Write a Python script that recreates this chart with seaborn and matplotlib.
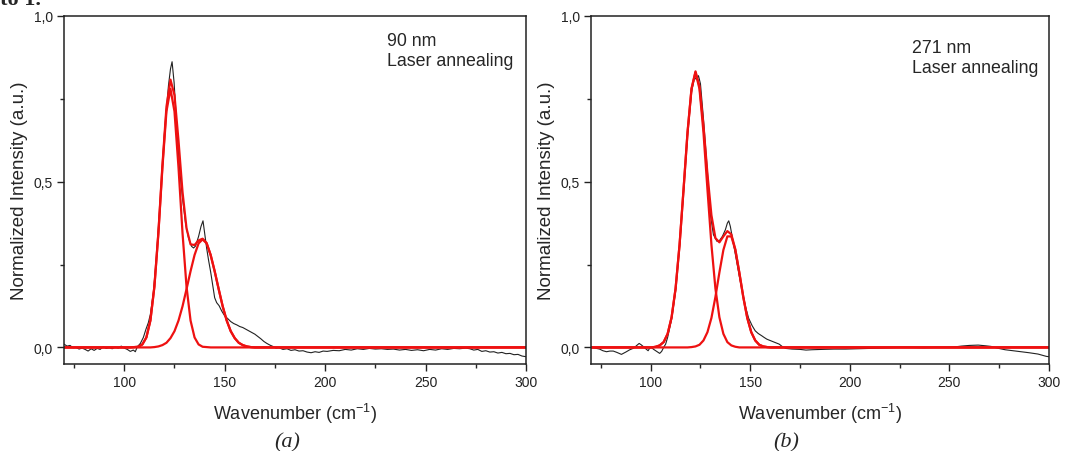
import matplotlib
matplotlib.use("Agg")
import matplotlib.pyplot as plt
import seaborn as sns
import pandas as pd
from matplotlib.ticker import MultipleLocator, FuncFormatter

# -------- panel (a): 90 nm, measured spectrum --------
a_x = [70, 71.5, 73, 74.5, 76, 77.5, 79, 80.5, 82, 83.5, 85, 86.5, 88, 89.5, 91, 92.5,
       94, 95.5, 97, 98.5, 100, 101.5, 103, 104.5, 105.5, 106.5, 108, 109.5, 110.8, 112,
       113, 114.5, 116, 118, 120, 122, 123, 123.8, 124.8, 126, 127.5, 129, 130.5, 132,
       133.5, 134.5, 135.5, 137, 138.2, 139.2, 140, 141, 142, 143, 144, 145, 146, 147.2,
       148.5, 150, 151.5, 153, 154.5, 156, 157.5, 159, 160.5, 162, 163.5, 165, 166.5, 168,
       169.5, 171, 172.5, 174, 175.5, 177, 179, 181, 183, 185, 187, 189, 191, 193, 195,
       197, 199, 201, 204, 207, 210, 213, 216, 219, 222, 225, 228, 231, 234, 237, 240,
       243, 246, 249, 252, 255, 258, 261, 264, 267, 270, 272, 274, 276, 278, 280, 282,
       284, 286, 288, 290, 292, 294, 296, 298, 300]
a_y = [0.010, 0.004, 0.006, -0.001, 0.000, -0.005, -0.002, -0.006, -0.011, -0.004, -0.009,
       -0.003, -0.006, 0.002, -0.003, -0.001, -0.004, 0.001, -0.002, 0.004, -0.002, -0.006,
       -0.012, -0.008, -0.013, 0.002, 0.012, 0.030, 0.055, 0.075, 0.100, 0.165, 0.270,
       0.450, 0.645, 0.790, 0.840, 0.862, 0.800, 0.680, 0.540, 0.450, 0.375, 0.330, 0.305,
       0.300, 0.306, 0.335, 0.365, 0.382, 0.345, 0.300, 0.262, 0.228, 0.190, 0.150, 0.135,
       0.126, 0.110, 0.095, 0.087, 0.078, 0.072, 0.068, 0.063, 0.060, 0.055, 0.050, 0.045,
       0.040, 0.033, 0.026, 0.018, 0.012, 0.007, 0.003, -0.002, -0.001, -0.006, -0.004,
       -0.009, -0.007, -0.011, -0.010, -0.014, -0.016, -0.013, -0.015, -0.011, -0.012,
       -0.009, -0.010, -0.006, -0.008, -0.004, -0.006, -0.003, -0.005, -0.004, -0.006,
       -0.005, -0.008, -0.006, -0.009, -0.007, -0.010, -0.006, -0.008, -0.004, -0.006,
       -0.003, -0.004, -0.002, -0.004, -0.008, -0.006, -0.012, -0.010, -0.014, -0.013,
       -0.017, -0.015, -0.019, -0.018, -0.022, -0.021, -0.026, -0.028]

# panel (a) fitted peaks
a_fit_x = [70, 103, 105, 107, 109, 111, 113, 115, 117, 119, 121, 123, 125, 127, 129, 131,
           133, 135, 137, 139, 141, 143, 145, 147, 149, 151, 153, 155, 157, 159, 161, 163,
           165, 300]
a_peak1 = [0, 0.000, 0.001, 0.002, 0.009, 0.030, 0.081, 0.183, 0.345, 0.543, 0.712, 0.780,
           0.712, 0.543, 0.345, 0.183, 0.081, 0.030, 0.009, 0.002, 0.001, 0, 0, 0, 0, 0,
           0, 0, 0, 0, 0, 0, 0, 0]
a_peak2 = [0, 0, 0, 0, 0, 0, 0.000, 0.001, 0.003, 0.007, 0.014, 0.028, 0.049, 0.081, 0.124,
           0.176, 0.230, 0.279, 0.314, 0.326, 0.314, 0.279, 0.230, 0.176, 0.124, 0.081,
           0.049, 0.028, 0.014, 0.007, 0.003, 0.001, 0.000, 0]
a_sum = [0, 0.000, 0.001, 0.002, 0.009, 0.030, 0.081, 0.184, 0.348, 0.550, 0.726, 0.808,
         0.761, 0.624, 0.469, 0.359, 0.311, 0.309, 0.323, 0.328, 0.315, 0.279, 0.230, 0.176,
         0.124, 0.081, 0.049, 0.028, 0.014, 0.007, 0.003, 0.001, 0.000, 0]

# -------- panel (b): 271 nm, measured spectrum --------
b_x = [70, 72, 74.3, 76, 77.8, 79.5, 81.2, 83, 85.3, 87.5, 89.5, 91.5, 93, 94.2, 95.2,
       96.2, 97.5, 98.7, 99.5, 100.3, 101.5, 103, 104.5, 105.5, 106.5, 107.5, 108.5, 110.5,
       112.5, 114.5, 116.5, 118.5, 120.5, 122, 123, 124, 125, 126.5, 128.5, 130, 131.5,
       133.3, 134.5, 136, 137.5, 138.5, 139.2, 140, 141.5, 143, 144.5, 146, 147.5, 149.2,
       151, 152.5, 154, 155.8, 157, 158.3, 159.5, 162, 164.5, 166, 167.8, 171, 175, 178,
       181, 186, 192, 198, 204, 210, 215, 220, 225, 231, 237, 243, 248, 252, 256, 260,
       264.5, 268, 271, 274, 278, 282, 286, 290, 294.5, 298.7, 300]
b_y = [0.000, -0.002, -0.005, -0.010, -0.013, -0.011, -0.011, -0.015, -0.021, -0.014,
       -0.007, -0.002, 0.006, 0.012, 0.008, 0.003, -0.004, -0.010, -0.002, 0.000, -0.006,
       -0.012, -0.018, -0.012, 0.000, 0.010, 0.030, 0.085, 0.170, 0.305, 0.470, 0.640,
       0.770, 0.815, 0.808, 0.820, 0.795, 0.690, 0.530, 0.400, 0.340, 0.320, 0.322, 0.335,
       0.355, 0.375, 0.382, 0.365, 0.315, 0.265, 0.215, 0.170, 0.125, 0.088, 0.065, 0.050,
       0.042, 0.035, 0.030, 0.025, 0.022, 0.016, 0.010, 0.003, -0.003, -0.005, -0.006,
       -0.008, -0.007, -0.006, -0.005, -0.005, -0.004, -0.003, -0.002, -0.001, 0.000,
       0.000, -0.001, 0.000, 0.000, 0.001, 0.004, 0.006, 0.007, 0.005, 0.003, -0.002,
       -0.007, -0.010, -0.013, -0.016, -0.020, -0.027, -0.028]

# panel (b) fitted peaks
b_fit_x = [70, 100.5, 102.5, 104.5, 106.5, 108.5, 110.5, 112.5, 114.5, 116.5, 118.5, 120.5,
           122.5, 124.5, 126.5, 128.5, 130.5, 132.5, 134.5, 136.5, 138.5, 140.5, 142.5,
           144.5, 146.5, 148.5, 150.5, 152.5, 154.5, 156.5, 158.5, 160.5, 300]
b_peak1 = [0, 0.000, 0.002, 0.006, 0.016, 0.041, 0.091, 0.178, 0.310, 0.477, 0.649, 0.780,
           0.830, 0.780, 0.649, 0.477, 0.310, 0.178, 0.091, 0.041, 0.016, 0.006, 0.002,
           0.000, 0, 0, 0, 0, 0, 0, 0, 0, 0]
b_peak2 = [0, 0, 0, 0, 0, 0, 0, 0, 0, 0, 0.000, 0.001, 0.003, 0.008, 0.021, 0.046, 0.089,
           0.152, 0.226, 0.294, 0.335, 0.335, 0.294, 0.226, 0.152, 0.089, 0.046, 0.021,
           0.008, 0.003, 0.001, 0.000, 0]
b_sum = [0, 0.000, 0.002, 0.006, 0.016, 0.041, 0.091, 0.178, 0.310, 0.477, 0.649, 0.781,
         0.833, 0.788, 0.670, 0.523, 0.399, 0.330, 0.317, 0.335, 0.351, 0.341, 0.296, 0.226,
         0.152, 0.089, 0.046, 0.021, 0.008, 0.003, 0.001, 0.000, 0]

sns.set_theme(style="ticks")
plt.rcParams["font.family"] = ["Liberation Sans", "DejaVu Sans"]
plt.rcParams["mathtext.fontset"] = "custom"
plt.rcParams["mathtext.rm"] = "Liberation Sans"
plt.rcParams["mathtext.it"] = "Liberation Sans:italic"

RED = "#ee1111"
comma = FuncFormatter(lambda v, p: f"{v:.1f}".replace(".", ","))

fig = plt.figure(figsize=(10.65, 4.52), dpi=100)
ax_a = fig.add_axes([0.0601, 0.1925, 0.4338, 0.7699])
ax_b = fig.add_axes([0.5549, 0.1925, 0.4300, 0.7699])

panels = [
    (ax_a, a_x, a_y, a_fit_x, a_peak1, a_peak2, a_sum, "90 nm\nLaser annealing", 0.955),
    (ax_b, b_x, b_y, b_fit_x, b_peak1, b_peak2, b_sum, "271 nm\nLaser annealing", 0.935),
]

for ax, x, y, fx, p1, p2, s, note, ty in panels:
    spec = pd.DataFrame({"x": x, "y": y})
    fit = pd.DataFrame({"x": fx, "p1": p1, "p2": p2, "sum": s})
    sns.lineplot(data=spec, x="x", y="y", ax=ax, color="#222222", lw=0.8,
                 sort=False, estimator=None)
    for col in ["p1", "p2", "sum"]:
        sns.lineplot(data=fit, x="x", y=col, ax=ax, color=RED, lw=1.6,
                     sort=False, estimator=None)
    ax.set_xlim(70, 300)
    ax.set_ylim(-0.05, 1.0)
    ax.xaxis.set_major_locator(MultipleLocator(50))
    ax.xaxis.set_minor_locator(MultipleLocator(25))
    ax.yaxis.set_major_locator(MultipleLocator(0.5))
    ax.yaxis.set_minor_locator(MultipleLocator(0.25))
    ax.yaxis.set_major_formatter(comma)
    ax.tick_params(which="major", direction="out", length=5, width=1, labelsize=10,
                   pad=3, colors="#222222", top=False, right=False)
    ax.tick_params(which="minor", direction="out", length=3, width=1,
                   top=False, right=False)
    for sp in ax.spines.values():
        sp.set_visible(True)
        sp.set_linewidth(1.1)
        sp.set_color("#222222")
    ax.set_xlabel("Wavenumber (cm$^{-1}$)", fontsize=13)
    ax.set_ylabel("Normalized Intensity (a.u.)", fontsize=13.5)
    ax.xaxis.set_label_coords(0.5, -0.105)
    ax.yaxis.set_label_coords(-0.078, 0.5)
    ax.text(0.70, ty, note, transform=ax.transAxes, ha="left", va="top",
            fontsize=12.8, linespacing=1.25)

fig.text(0.270, 0.020, "(a)", family="Liberation Serif", style="italic", fontsize=16,
         ha="center", va="center")
fig.text(0.738, 0.020, "(b)", family="Liberation Serif", style="italic", fontsize=16,
         ha="center", va="center")
fig.text(0.0, 0.989, "to 1.", family="Liberation Serif", weight="bold", fontsize=16,
         ha="left", va="baseline")

fig.savefig("out.png", dpi=100, facecolor="white")
